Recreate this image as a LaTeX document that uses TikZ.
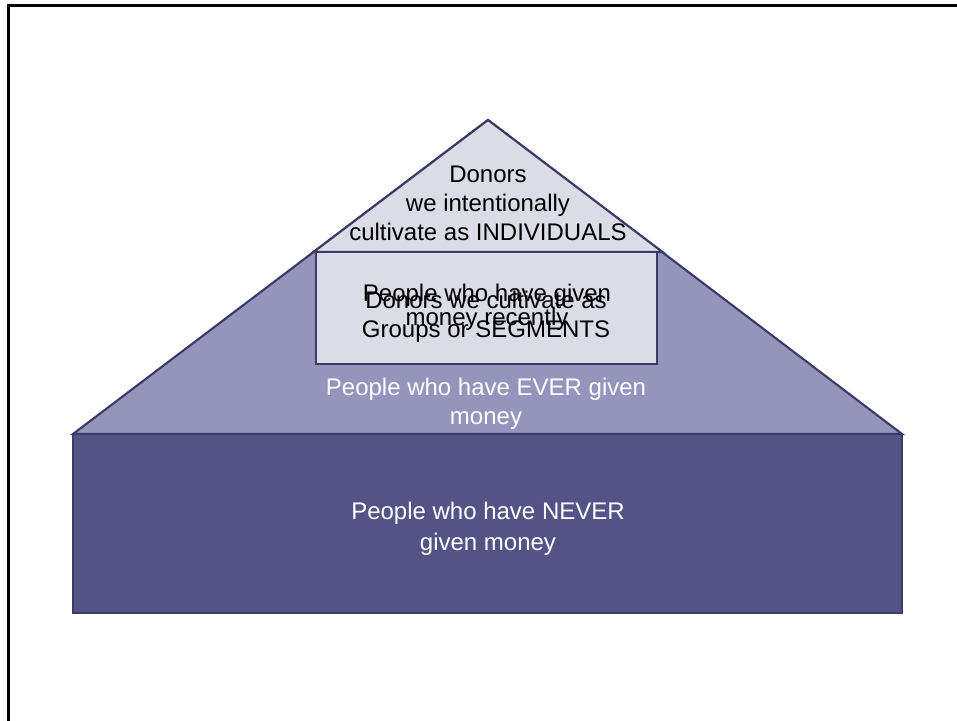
\documentclass[tikz,border=0pt]{standalone}
\usepackage{fontspec}
\setmainfont{Liberation Sans}
\definecolor{lite}{HTML}{DCDCE8}
\definecolor{mid}{HTML}{9494BD}
\definecolor{deep}{HTML}{535386}
\definecolor{edge}{HTML}{3B3B66}
\tikzset{
  shapeline/.style={draw=edge, line width=1.6pt, line join=miter},
  boxline/.style={draw=edge, line width=1.1pt},
  lbl/.style={align=center, inner sep=0pt, font=\fontsize{18}{21.8}\selectfont},
}
\begin{document}
\begin{tikzpicture}[x=0.75pt,y=-0.75pt]
\useasboundingbox (0,0) rectangle (957,721);
\clip (0,0) rectangle (957,721);
\fill[white] (0,0) rectangle (957,721);
% frame
\draw[black, line width=1.9pt] (8.5,740) -- (8.5,5.5) -- (980,5.5);
% shapes
\draw[shapeline, fill=mid] (488,120) -- (73,434) -- (902,434) -- cycle;
\draw[boxline, fill=deep] (73,434) rectangle (902,613);
\draw[shapeline, fill=lite] (488,120) -- (313.5,252) -- (662.5,252) -- cycle;
\draw[boxline, fill=lite] (316,252) rectangle (657,364);
% texts
\node[lbl] (indiv) at (488,203) {Donors\\we intentionally\\cultivate as INDIVIDUALS};
\node[lbl, font=\fontsize{18}{18}\selectfont] (recent) at (487,307) {People who have given\\money recently};
\node[lbl] (segm) at (486,317) {Donors we cultivate as\\Groups or SEGMENTS};
\node[lbl, text=white] (ever) at (486,404) {People who have EVER given\\money};
\node[lbl, text=white, font=\fontsize{18}{23}\selectfont] (never) at (488,529) {People who have NEVER\\given money};
\end{tikzpicture}
\end{document}
